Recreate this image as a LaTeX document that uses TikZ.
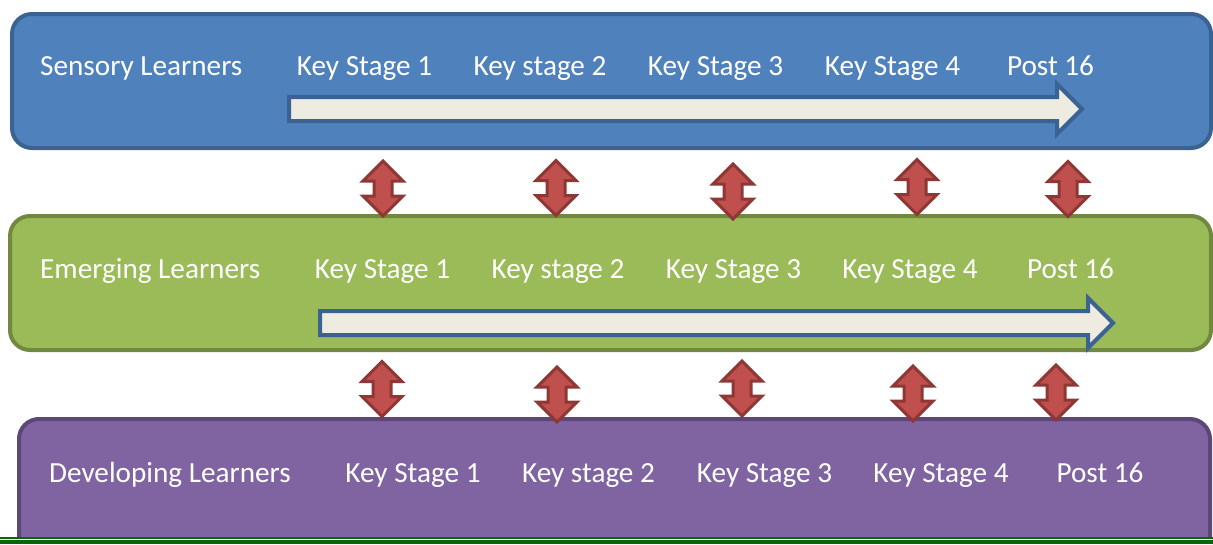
\documentclass[tikz,border=0pt]{standalone}
\usepackage{fontspec}
\setmainfont{Carlito}
\usepackage{tikz}
\usetikzlibrary{shapes.arrows}

\definecolor{sensoryfill}{HTML}{4F81BD}
\definecolor{sensoryline}{HTML}{3B6391}
\definecolor{emergingfill}{HTML}{9BBB59}
\definecolor{emergingline}{HTML}{71893F}
\definecolor{developfill}{HTML}{8064A2}
\definecolor{developline}{HTML}{5C4776}
\definecolor{flowfill}{HTML}{EEECE1}
\definecolor{flowline}{HTML}{3B6391}
\definecolor{linkfill}{HTML}{C0504D}
\definecolor{linkline}{HTML}{8E3735}
\definecolor{rulegreen}{HTML}{0B650B}

\begin{document}
\begin{tikzpicture}[x=1pt,y=-1pt,
  box/.style={draw,line width=4pt,rounded corners=20pt,inner sep=0pt},
  lbl/.style={text=white,inner sep=0pt,font=\fontsize{29.2}{34}\selectfont},
  flow/.style={single arrow,draw=flowline,fill=flowfill,line width=4pt,
    inner sep=0pt,text height=20pt,text depth=0pt,minimum width=46pt,
    single arrow head extend=13pt},
  updown/.style={double arrow,draw=linkline,fill=linkfill,line width=3pt,
    inner sep=0pt,rotate=90,text height=15pt,text depth=0pt,
    minimum height=55pt,minimum width=37pt,double arrow head extend=11pt}]
\useasboundingbox (0,0) rectangle (1213,544);

% the three bands
\node[box,draw=sensoryline,fill=sensoryfill,minimum width=1199pt,minimum height=134pt]
  (sensoryBox) at (611.5,81) {};
\node[box,draw=emergingline,fill=emergingfill,minimum width=1201pt,minimum height=134pt]
  (emergingBox) at (610.5,283) {};
\begin{scope}
\clip (0,0) rectangle (1213,536);
\node[box,draw=developline,fill=developfill,minimum width=1191pt,minimum height=181pt]
  (developBox) at (614.5,509.5) {};
\end{scope}

% row labels
\node[lbl,anchor=base west] (sensory) at (40,75) {Sensory Learners};
\node[lbl,anchor=base west] (emerging) at (40,278) {Emerging Learners};
\node[lbl,anchor=base west] (developing) at (49,482) {Developing Learners};

\foreach \x/\t [count=\i] in {364.5/Key Stage 1,540/Key stage 2,715.5/Key Stage 3,892.5/Key Stage 4,1050.5/Post 16}
  \node[lbl,anchor=base] (s\i) at (\x,75) {\t};
\foreach \x/\t [count=\i] in {382.5/Key Stage 1,558/Key stage 2,733.5/Key Stage 3,910/Key Stage 4,1070.5/Post 16}
  \node[lbl,anchor=base] (e\i) at (\x,278) {\t};
\foreach \x/\t [count=\i] in {413/Key Stage 1,588.5/Key stage 2,764.5/Key Stage 3,941/Key Stage 4,1100/Post 16}
  \node[lbl,anchor=base] (d\i) at (\x,482) {\t};

% progression arrows
\node[flow,minimum height=793pt] (sensoryFlow) at (679.5,109) {};
\node[flow,minimum height=793pt] (emergingFlow) at (710.5,323) {};

% links between the bands
\foreach \x/\y [count=\i] in {383/188.5,556/188,733/191.5,917/187,1068/189}
  \node[updown] (up\i) at (\x,\y) {};
\foreach \x/\y [count=\i] in {382/389,557/394.5,742/388.5,913/393.5,1056/392.5}
  \node[updown] (dn\i) at (\x,\y) {};

\draw[rulegreen,line width=2pt] (0,537.8) -- (1213,537.8);
\draw[rulegreen,line width=3.7pt] (0,542.2) -- (1213,542.2);
\end{tikzpicture}
\end{document}
